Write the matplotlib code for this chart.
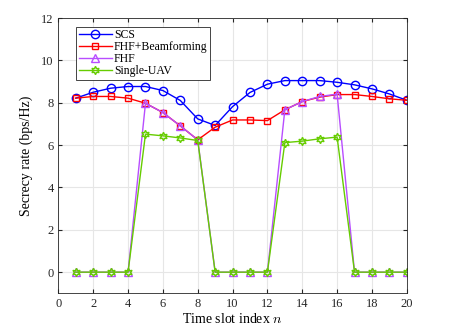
import matplotlib.pyplot as plt

# time slots 1..20
slots = list(range(1, 21))

scs = [8.22, 8.50, 8.69, 8.77, 8.77, 8.58, 8.11, 7.24, 6.93, 7.82,
       8.49, 8.88, 9.05, 9.05, 9.05, 8.97, 8.85, 8.66, 8.42, 8.12]
fhf_bf = [8.22, 8.30, 8.30, 8.22, 7.98, 7.54, 6.91, 6.25, 6.85, 7.19,
          7.19, 7.16, 7.67, 8.06, 8.27, 8.39, 8.39, 8.30, 8.19, 8.12]
fhf = [0, 0, 0, 0, 7.98, 7.54, 6.91, 6.25, 0, 0,
       0, 0, 7.67, 8.06, 8.30, 8.41, 0, 0, 0, 0]
single_uav = [0, 0, 0, 0, 6.52, 6.44, 6.34, 6.22, 0, 0,
              0, 0, 6.12, 6.19, 6.30, 6.38, 0, 0, 0, 0]

plt.rcParams['font.family'] = ['Liberation Serif', 'DejaVu Serif']
plt.rcParams['mathtext.fontset'] = 'cm'

fig = plt.figure(figsize=(4.49, 3.36), dpi=100)
ax = fig.add_axes([0.130, 0.127, 0.776, 0.819])

ax.plot(slots, scs, color='#0000ff', marker='o', markersize=6,
        markerfacecolor='none', linewidth=1.0, label='SCS')
ax.plot(slots, fhf_bf, color='#ff0000', marker='s', markersize=5,
        markerfacecolor='none', linewidth=1.0, label='FHF+Beamforming')
ax.plot(slots, fhf, color='#b84dff', marker='^', markersize=6,
        markerfacecolor='none', linewidth=1.0, label='FHF')
ax.plot(slots, single_uav, color='#66cc00', marker=(6, 1, 0), markersize=6,
        markerfacecolor='none', linewidth=1.0, label='Single-UAV')

ax.set_xlim(0, 20)
ax.set_ylim(-1, 12)
ax.set_xticks(range(0, 21, 2))
ax.set_yticks(range(0, 13, 2))
ax.grid(True, color='#e6e6e6', linewidth=0.8)
ax.set_axisbelow(True)
ax.tick_params(direction='in', length=3, labelsize=9, colors='#262626',
               top=True, right=True)
for s in ax.spines.values():
    s.set_color('#262626')
    s.set_linewidth(0.6)

ax.set_xlabel('Time slot index $n$', fontsize=10, labelpad=1)
ax.set_ylabel('Secrecy rate (bps/Hz)', fontsize=10, labelpad=6)

leg = ax.legend(loc='upper left', fontsize=8.5, fancybox=False, framealpha=1,
                edgecolor='#262626', handlelength=2.8, borderpad=0.2,
                labelspacing=0.0, handletextpad=0.2, borderaxespad=0,
                bbox_to_anchor=(0.051, 0.968))
leg.get_frame().set_linewidth(0.6)

fig.savefig('out.png', dpi=100)
